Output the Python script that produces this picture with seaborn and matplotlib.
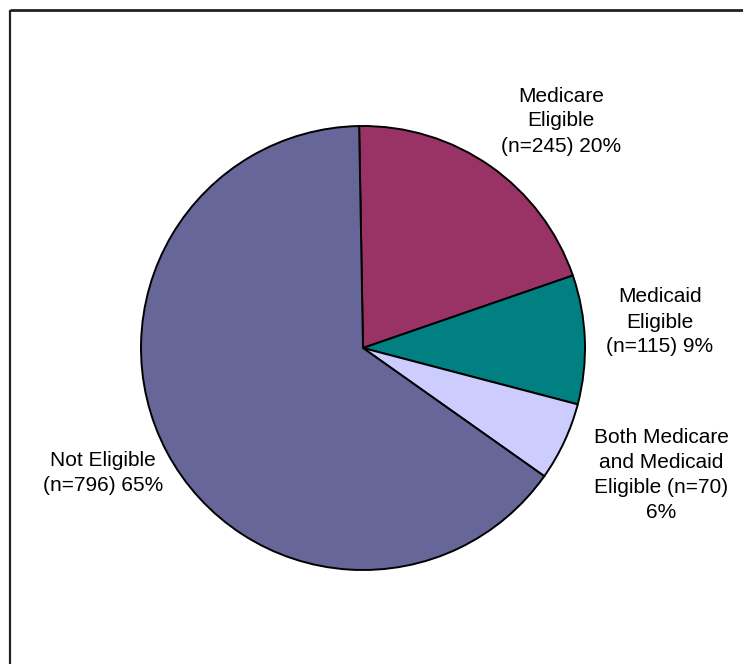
import matplotlib
matplotlib.use("Agg")
import matplotlib.pyplot as plt
import seaborn as sns

sns.set_theme(style="white")
plt.rcParams["font.family"] = ["Liberation Sans", "DejaVu Sans"]

categories = ["Medicare Eligible", "Medicaid Eligible",
              "Both Medicare and Medicaid Eligible", "Not Eligible"]
counts = [245, 115, 70, 796]
percents = [20, 9, 6, 65]
labels = ["Medicare\nEligible\n(n=245) 20%",
          "Medicaid\nEligible\n(n=115) 9%",
          "Both Medicare\nand Medicaid\nEligible (n=70)\n6%",
          "Not Eligible\n(n=796) 65%"]
colors = ["#993366", "#008080", "#CCCCFF", "#666699"]

W, H = 743, 664
fig = plt.figure(figsize=(W / 100, H / 100), dpi=100)
ax = fig.add_axes([0, 0, 1, 1])

# pie laid out in pixel-like data units (y measured upward)
cx, cy, r = 363, H - 348, 222
ax.pie(counts, colors=colors, startangle=91, counterclock=False,
       center=(cx, cy), radius=r,
       wedgeprops=dict(edgecolor="black", linewidth=1.4))
ax.set_aspect("auto")
ax.set_xlim(0, W)
ax.set_ylim(0, H)
ax.axis("off")

label_pos = [(561, 121), (660, 322), (661, 475), (103, 473)]
for txt, (x, y) in zip(labels, label_pos):
    ax.text(x, H - y, txt, ha="center", va="center", fontsize=15,
            linespacing=1.4, color="black")

# chart frame: left and top borders
ax.plot([10, 10], [0, H - 9.5], color="#222222", lw=1.6, solid_capstyle="butt")
ax.plot([10, W], [H - 9.5, H - 9.5], color="#222222", lw=2.0, solid_capstyle="butt")

fig.savefig("out.png", dpi=100)
